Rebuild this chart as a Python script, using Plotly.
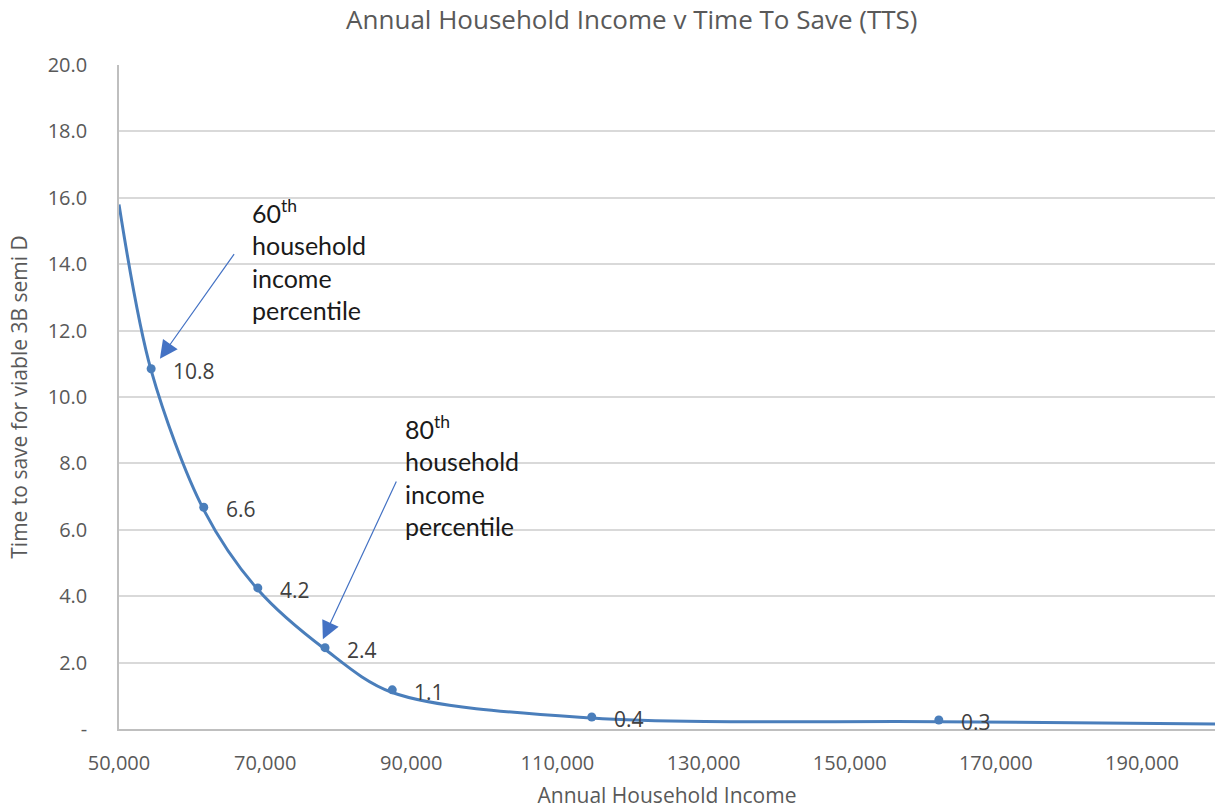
import plotly.graph_objects as go

# Curve points (smoothed line), including unmarked end points
curve_income = [50000, 54400, 61600, 69000, 78200, 87400, 114700, 162200, 200000]
curve_tts = [15.8, 10.8, 6.6, 4.2, 2.4, 1.1, 0.33, 0.22, 0.15]

# Marked and labelled points
pt_income = [54400, 61600, 69000, 78200, 87400, 114700, 162200]
pt_tts = [10.85, 6.68, 4.25, 2.45, 1.18, 0.36, 0.27]
pt_labels = ["10.8", "6.6", "4.2", "2.4", "1.1", "0.4", "0.3"]

x_ticks = [50000, 70000, 90000, 110000, 130000, 150000, 170000, 190000]
x_ticktext = ["50,000", "70,000", "90,000", "110,000", "130,000", "150,000", "170,000", "190,000"]
y_ticks = [0, 2, 4, 6, 8, 10, 12, 14, 16, 18, 20]
y_ticktext = ["-", "2.0", "4.0", "6.0", "8.0", "10.0", "12.0", "14.0", "16.0", "18.0", "20.0"]

# Callouts: text, text anchor (income, tts), arrow tail, arrow head
callout_text = ["60<sup>th</sup><br>household<br>income<br>percentile",
                "80<sup>th</sup><br>household<br>income<br>percentile"]
callout_pos_x = [67900, 88850]
callout_pos_y = [16.15, 9.65]
arrow_tail_x = [65900, 88050]
arrow_tail_y = [14.35, 7.5]
arrow_head_x = [55600, 77900]
arrow_head_y = [11.15, 2.7]

LINE = "#4a7ebb"
FONT = "Open Sans"
CFONT = "Lato"

fig = go.Figure()
fig.add_trace(go.Scatter(x=curve_income, y=curve_tts, mode="lines",
                         line=dict(color=LINE, width=3, shape="spline", smoothing=0.9),
                         hoverinfo="skip", showlegend=False))
fig.add_trace(go.Scatter(x=pt_income, y=pt_tts, mode="markers",
                         marker=dict(color=LINE, size=9),
                         showlegend=False))

annotations = []
for xi, yi, t in zip(pt_income, pt_tts, pt_labels):
    annotations.append(dict(x=xi, y=yi, text=t, showarrow=False, xanchor="left",
                            yanchor="middle", xshift=20, yshift=-2,
                            font=dict(family=FONT, size=21, color="#404040")))
for t, px, py in zip(callout_text, callout_pos_x, callout_pos_y):
    annotations.append(dict(x=px, y=py, text=t, showarrow=False, xanchor="left",
                            yanchor="top", align="left",
                            font=dict(family=CFONT, size=25, color="#1a1a1a")))
for tx, ty, hx, hy in zip(arrow_tail_x, arrow_tail_y, arrow_head_x, arrow_head_y):
    annotations.append(dict(x=hx, y=hy, ax=tx, ay=ty, axref="x", ayref="y",
                            text="", showarrow=True, arrowhead=2, arrowsize=3,
                            arrowwidth=1.2, arrowcolor="#4472c4"))

fig.update_layout(
    width=1215, height=809,
    margin=dict(l=119, r=0, t=65, b=80),
    paper_bgcolor="white", plot_bgcolor="white",
    title=dict(text="Annual Household Income v Time To Save (TTS)", x=0.52, xanchor="center",
               y=0.975, yanchor="middle",
               font=dict(family=FONT, size=26, color="#595959")),
    font=dict(family=FONT, color="#595959"),
    annotations=annotations,
)
fig.update_xaxes(range=[50000, 200000], tickvals=x_ticks, ticktext=x_ticktext,
                 showgrid=False, showline=True, linecolor="#bfbfbf", linewidth=1.5,
                 tickfont=dict(family=FONT, size=20, color="#595959"),
                 ticks="outside", ticklen=0, ticklabelstandoff=15,
                 title=dict(text="Annual Household Income", standoff=14,
                            font=dict(family=FONT, size=21, color="#595959")),
                 zeroline=False)
fig.update_yaxes(range=[0, 20], tickvals=y_ticks, ticktext=y_ticktext,
                 showgrid=True, gridcolor="#d9d9d9", gridwidth=1.5,
                 showline=True, linecolor="#bfbfbf", linewidth=1.5,
                 tickfont=dict(family=FONT, size=20, color="#595959"),
                 ticks="outside", ticklen=0, ticklabelstandoff=26,
                 title=dict(text="Time to save for viable 3B semi D", standoff=14,
                            font=dict(family=FONT, size=21, color="#595959")),
                 zeroline=False)

fig.write_html("out.html")
